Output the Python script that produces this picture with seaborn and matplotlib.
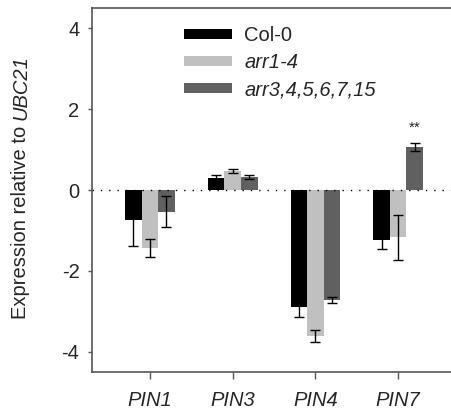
import numpy as np
import pandas as pd
import matplotlib
matplotlib.use("Agg")
import matplotlib.pyplot as plt
import seaborn as sns
from matplotlib.patches import Patch

genes = ["PIN1", "PIN3", "PIN4", "PIN7"]
lines = ["Col-0", "arr1-4", "arr3,4,5,6,7,15"]
col0 = [-0.74, 0.30, -2.90, -1.23]
arr1_4 = [-1.43, 0.47, -3.61, -1.17]
arr3_15 = [-0.54, 0.33, -2.72, 1.06]
col0_se = [0.65, 0.06, 0.23, 0.24]
arr1_4_se = [0.22, 0.04, 0.16, 0.56]
arr3_15_se = [0.38, 0.05, 0.07, 0.10]
colors = ["#000000", "#c0c0c0", "#606060"]

rows = []
for line, vals, ses in zip(lines, [col0, arr1_4, arr3_15], [col0_se, arr1_4_se, arr3_15_se]):
    for g, v, s in zip(genes, vals, ses):
        rows.append({"gene": g, "line": line, "value": v, "se": s})
df = pd.DataFrame(rows)

sns.set_style("ticks")
plt.rcParams["font.family"] = ["Liberation Sans", "DejaVu Sans"]
plt.rcParams["axes.unicode_minus"] = False

fs = 14.5
fig = plt.figure(figsize=(4.52, 4.12), dpi=100)
ax = fig.add_axes([92 / 452, 1 - 372 / 412, 1 - 92 / 452, (372 - 8) / 412])

sns.barplot(data=df, x="gene", y="value", hue="line", hue_order=lines,
            palette=colors, width=0.6, errorbar=None, saturation=1,
            edgecolor="none", legend=False, ax=ax)

# error bars on top of each bar
for bars, line in zip(ax.containers, lines):
    sub = df[df["line"] == line].set_index("gene").loc[genes]
    xs = [b.get_x() + b.get_width() / 2 for b in bars]
    ax.errorbar(xs, sub["value"], yerr=sub["se"], fmt="none", ecolor="black",
                elinewidth=1, capsize=3.5, capthick=1, zorder=5)

# significance mark above PIN7 arr3,4,5,6,7,15
b = ax.containers[2][3]
ax.text(b.get_x() + b.get_width() / 2, 1.55, "**", ha="center", va="center", fontsize=11)

ax.axhline(0, color="black", lw=1, ls=(0, (1, 5)), zorder=1)

ax.set_xlim(-0.7, 3.65)
ax.set_ylim(-4.5, 4.5)
ax.set_yticks([-4, -2, 0, 2, 4])
ax.set_xlabel("")
ax.set_ylabel("")
ax.set_xticks(range(4))
ax.set_xticklabels(genes, style="italic", fontsize=fs)
ax.tick_params(axis="x", length=5, width=1, color="#555555", pad=9)
ax.tick_params(axis="y", length=3, width=1, color="#555555", pad=6, labelsize=fs)
for side in ["left", "bottom", "top"]:
    ax.spines[side].set_color("#555555")
    ax.spines[side].set_linewidth(1.2)
ax.spines["right"].set_visible(False)

# y label in two parts: plain text + italic gene name
renderer = fig.canvas.get_renderer()
part1 = fig.text(21 / 452, 0, "Expression relative to ", rotation=90, fontsize=fs,
                 ha="center", va="bottom")
part2 = fig.text(21 / 452, 0, "UBC21", rotation=90, fontsize=fs, style="italic",
                 ha="center", va="bottom")
h1 = part1.get_window_extent(renderer).height
h2 = part2.get_window_extent(renderer).height
y0 = (187 - 0) / 412
start = 1 - y0 - (h1 + h2) / 2 / 412
part1.set_y(start)
part2.set_y(start + h1 / 412)

handles = [Patch(facecolor=c, edgecolor="none") for c in colors]
leg = ax.legend(handles, lines, loc="upper left", bbox_to_anchor=(0.205, 1.0),
                frameon=False, fontsize=fs, handlelength=2.4, handleheight=0.45,
                handletextpad=0.6, labelspacing=0.4)
for t in leg.get_texts()[1:]:
    t.set_style("italic")

fig.savefig("out.png", dpi=100)
